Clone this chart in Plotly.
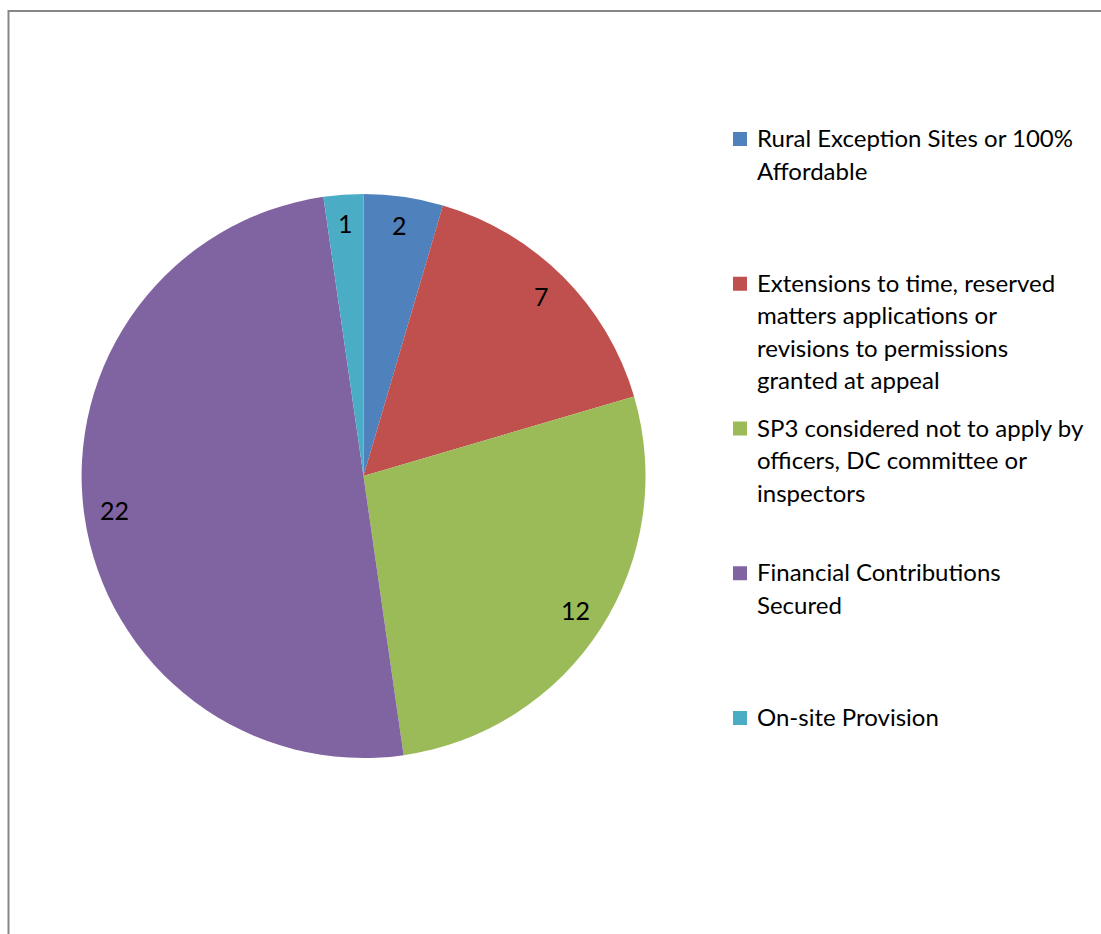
import math
import plotly.graph_objects as go

# ---- data ----
categories = [
    "Rural Exception Sites or 100%\nAffordable",
    "Extensions to time, reserved\nmatters applications or\nrevisions to permissions\ngranted at appeal",
    "SP3 considered not to apply by\nofficers, DC committee or\ninspectors",
    "Financial Contributions\nSecured",
    "On-site Provision",
]
values = [2, 7, 12, 22, 1]
colors = ["#4F81BD", "#C0504D", "#9BBB59", "#8064A2", "#4BACC6"]

W, H = 1101, 934
FONT = "Lato"
FS = 24

# pie geometry (pixels)
cx, cy, R = 363.5, 476.0, 282.0

fig = go.Figure()
fig.add_trace(go.Pie(
    labels=[c.replace("\n", " ") for c in categories],
    values=values,
    sort=False,
    direction="clockwise",
    rotation=0,
    textinfo="none",
    hoverinfo="label+value",
    marker=dict(colors=colors, line=dict(width=0)),
    domain=dict(x=[(cx - R) / W, (cx + R) / W], y=[1 - (cy + R) / H, 1 - (cy - R) / H]),
    showlegend=False,
))

annotations = []
shapes = []

# data labels
total = sum(values)
cum = 0
for v in values:
    mid = (cum + v / 2) / total * 2 * math.pi
    cum += v
    r = 0.893 * R
    px = cx + r * math.sin(mid)
    py = cy - r * math.cos(mid) - 2
    annotations.append(dict(
        x=px / W, y=1 - py / H, xref="paper", yref="paper",
        text=str(v), showarrow=False, xanchor="center", yanchor="middle",
        font=dict(family=FONT, size=25, color="black"),
    ))

# custom legend
leg_x_marker = 733
leg_x_text = 755
first_y = 139
text_shift = -1.5
item_gap = 144.75
line_gap = 32.5
msz = 14
for i, (cat, col) in enumerate(zip(categories, colors)):
    y0 = first_y + i * item_gap
    shapes.append(dict(
        type="rect", xref="paper", yref="paper",
        x0=leg_x_marker / W, x1=(leg_x_marker + msz) / W,
        y0=1 - (y0 - msz / 2) / H, y1=1 - (y0 + msz / 2) / H,
        fillcolor=col, line=dict(width=0),
    ))
    for j, line in enumerate(cat.split("\n")):
        yy = y0 + j * line_gap + text_shift
        annotations.append(dict(
            x=leg_x_text / W, y=1 - yy / H, xref="paper", yref="paper",
            text=line, showarrow=False, xanchor="left", yanchor="middle",
            font=dict(family=FONT, size=FS, color="black"),
        ))

# chart frame
shapes.append(dict(
    type="rect", xref="paper", yref="paper",
    x0=8.5 / W, x1=1.05, y0=1 - 11 / H, y1=-0.05,
    line=dict(color="#878787", width=2), fillcolor="rgba(0,0,0,0)",
))

fig.update_layout(
    width=W, height=H,
    margin=dict(l=0, r=0, t=0, b=0),
    paper_bgcolor="white",
    plot_bgcolor="white",
    annotations=annotations,
    shapes=shapes,
    showlegend=False,
)

fig.write_html("out.html")
